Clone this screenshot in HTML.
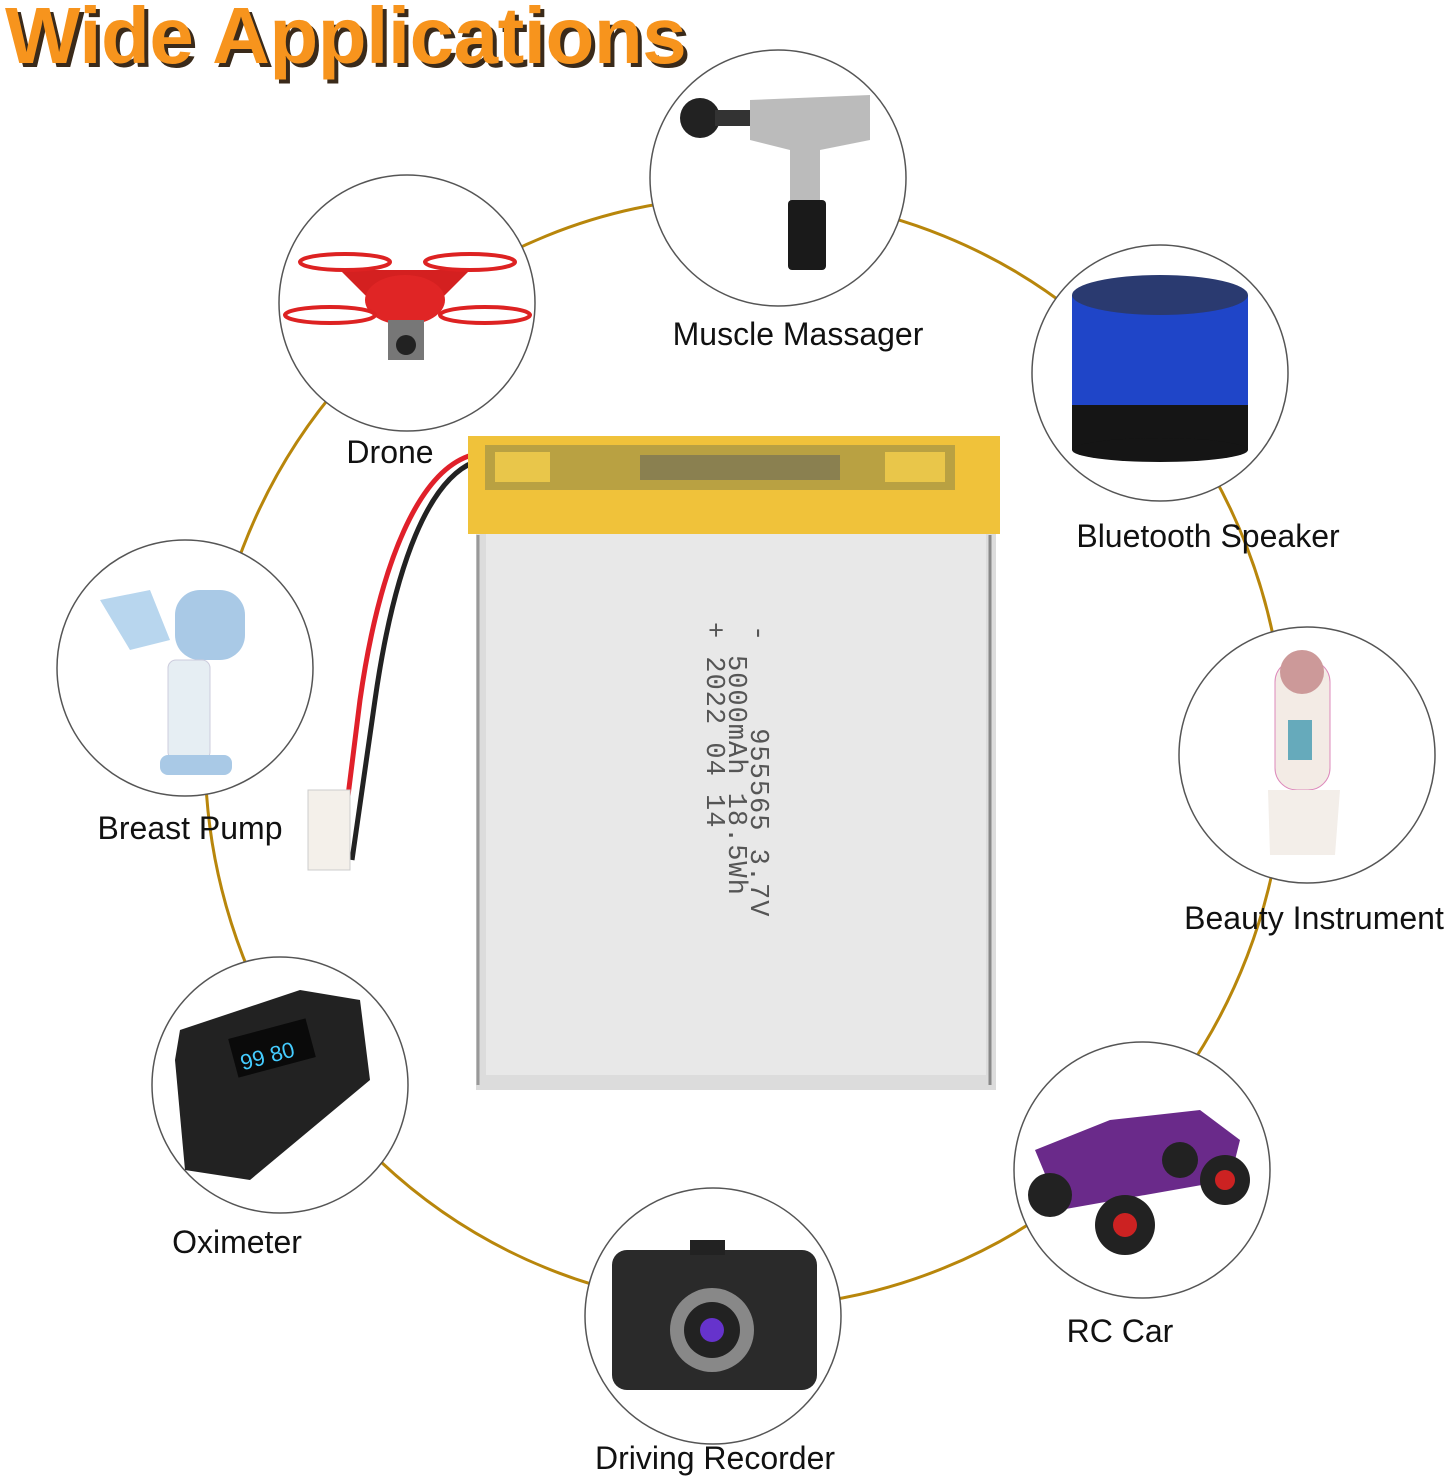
<!DOCTYPE html>
<html><head><meta charset="utf-8"><style>
body{margin:0;width:1452px;height:1480px;background:#fff;position:relative;overflow:hidden;font-family:"Liberation Sans",sans-serif}
.lbl{position:absolute;font-size:32px;color:#111;white-space:nowrap;transform:translateX(-50%)}
.rt{position:absolute;font-family:"Liberation Mono",monospace;font-size:27px;color:#555;transform-origin:0 0;transform:rotate(90deg);white-space:pre;letter-spacing:1px}
</style></head><body>
<svg width="1452" height="1480" style="position:absolute;left:0;top:0">
<ellipse cx="745" cy="752" rx="540" ry="555" fill="none" stroke="#b8860b" stroke-width="3"/>
<path d="M472 455 C420 470 380 560 360 700 L340 860" stroke="#e0202a" stroke-width="5" fill="none"/>
<path d="M474 462 C430 480 395 560 375 700 L352 860" stroke="#222" stroke-width="5" fill="none"/>
<rect x="308" y="790" width="42" height="80" fill="#f4f0ea" stroke="#ccc"/>
<rect x="476" y="520" width="520" height="570" fill="#dcdcdc"/>
<rect x="486" y="530" width="500" height="545" fill="#e8e8e8"/>
<rect x="468" y="436" width="532" height="98" fill="#f0c23a"/>
<rect x="485" y="445" width="470" height="45" fill="#b9a142"/>
<rect x="495" y="452" width="55" height="30" fill="#e9c64a"/>
<rect x="885" y="452" width="60" height="30" fill="#e9c64a"/>
<rect x="640" y="455" width="200" height="25" fill="#8a8050"/>
<line x1="478" y1="535" x2="478" y2="1085" stroke="#999" stroke-width="3"/>
<line x1="990" y1="535" x2="990" y2="1085" stroke="#888" stroke-width="3"/>
<g fill="#fff" stroke="#555" stroke-width="1.5">
<circle cx="778" cy="178" r="128"/><circle cx="407" cy="303" r="128"/>
<circle cx="1160" cy="373" r="128"/><circle cx="185" cy="668" r="128"/>
<circle cx="1307" cy="755" r="128"/><circle cx="280" cy="1085" r="128"/>
<circle cx="1142" cy="1170" r="128"/><circle cx="713" cy="1316" r="128"/>
</g>
<circle cx="700" cy="118" r="20" fill="#222"/><rect x="715" y="110" width="40" height="16" fill="#333"/>
<path d="M750 100 L870 95 L870 140 L820 150 L820 210 L790 210 L790 150 L750 140Z" fill="#bbb"/>
<rect x="788" y="200" width="38" height="70" rx="4" fill="#1a1a1a"/>
<path d="M340 270 L470 270 L440 300 L370 300Z" fill="#d42020"/>
<ellipse cx="405" cy="300" rx="40" ry="25" fill="#e02525"/>
<ellipse cx="345" cy="262" rx="45" ry="8" fill="none" stroke="#d22" stroke-width="4"/>
<ellipse cx="470" cy="262" rx="45" ry="8" fill="none" stroke="#d22" stroke-width="4"/>
<ellipse cx="330" cy="315" rx="45" ry="8" fill="none" stroke="#d22" stroke-width="4"/>
<ellipse cx="485" cy="315" rx="45" ry="8" fill="none" stroke="#d22" stroke-width="4"/>
<rect x="388" y="320" width="36" height="40" fill="#777"/><circle cx="406" cy="345" r="10" fill="#222"/>
<rect x="1072" y="295" width="176" height="115" fill="#1f45c8"/>
<ellipse cx="1160" cy="295" rx="88" ry="20" fill="#2a3a70"/>
<rect x="1072" y="405" width="176" height="45" fill="#151515"/>
<ellipse cx="1160" cy="450" rx="88" ry="12" fill="#151515"/>
<path d="M100 600 L150 590 L170 640 L130 650Z" fill="#b8d6ee"/>
<rect x="175" y="590" width="70" height="70" rx="25" fill="#a9c9e6"/>
<rect x="168" y="660" width="42" height="100" rx="8" fill="#e6eef3" stroke="#ccd" />
<rect x="160" y="755" width="72" height="20" rx="8" fill="#a9c9e6"/>
<rect x="1275" y="660" width="55" height="130" rx="22" fill="#f3ebe5" stroke="#d8b"/>
<circle cx="1302" cy="672" r="22" fill="#c99"/>
<rect x="1288" y="720" width="24" height="40" fill="#6ab"/>
<path d="M1268 790 L1340 790 L1335 855 L1270 855Z" fill="#f3eee9"/>
<path d="M180 1030 L300 990 L360 1000 L370 1080 L250 1180 L185 1170 L175 1060Z" fill="#222"/>
<rect x="232" y="1028" width="80" height="40" fill="#0a0a0a" transform="rotate(-15 272 1048)"/>
<text x="238" y="1062" font-size="22" fill="#4cf" transform="rotate(-15 272 1048)">99 80</text>
<path d="M1035 1150 L1110 1120 L1200 1110 L1240 1140 L1230 1180 L1060 1210Z" fill="#6a2a8a"/>
<circle cx="1050" cy="1195" r="22" fill="#222"/><circle cx="1125" cy="1225" r="30" fill="#222"/>
<circle cx="1225" cy="1180" r="25" fill="#222"/><circle cx="1180" cy="1160" r="18" fill="#222"/>
<circle cx="1125" cy="1225" r="12" fill="#c22"/><circle cx="1225" cy="1180" r="10" fill="#c22"/>
<rect x="612" y="1250" width="205" height="140" rx="15" fill="#2a2a2a"/>
<circle cx="712" cy="1330" r="42" fill="#888"/><circle cx="712" cy="1330" r="28" fill="#222"/>
<circle cx="712" cy="1330" r="12" fill="#63c"/>
<rect x="690" y="1240" width="35" height="15" fill="#222"/>
</svg>
<div style="position:absolute;left:5px;top:-10px;font-size:80px;font-weight:bold;color:#f7941d;letter-spacing:-0.5px;text-shadow:4px 4px 0 #3a2a1a">Wide Applications</div>
<div class="rt" style="left:772px;top:625px">-     955565 3.7V</div>
<div class="rt" style="left:750px;top:655px">5000mAh 18.5Wh</div>
<div class="rt" style="left:728px;top:622px">+ 2022 04 14</div>
<div class="lbl" style="left:798px;top:316px">Muscle Massager</div>
<div class="lbl" style="left:390px;top:434px">Drone</div>
<div class="lbl" style="left:1208px;top:518px">Bluetooth Speaker</div>
<div class="lbl" style="left:190px;top:810px">Breast Pump</div>
<div class="lbl" style="left:1314px;top:900px">Beauty Instrument</div>
<div class="lbl" style="left:237px;top:1224px">Oximeter</div>
<div class="lbl" style="left:1120px;top:1313px">RC Car</div>
<div class="lbl" style="left:715px;top:1440px">Driving Recorder</div>
</body></html>
